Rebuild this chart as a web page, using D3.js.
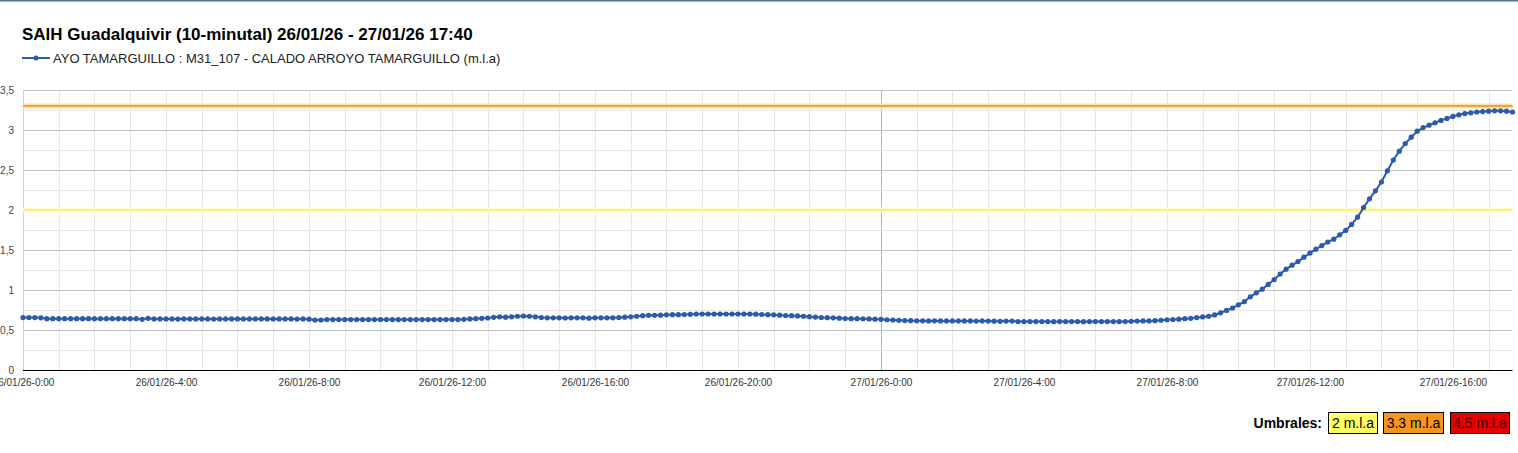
<!DOCTYPE html>
<html><head><meta charset="utf-8">
<script src="https://cdn.jsdelivr.net/npm/d3@7/dist/d3.min.js"></script>
<style>
html,body{margin:0;padding:0;background:#fff;}
svg{display:block;font-family:"Liberation Sans",Arial,sans-serif;}
</style></head><body>
<svg id="chart" width="1518" height="453"></svg>
<script>
const titleText = "SAIH Guadalquivir (10-minutal) 26/01/26 - 27/01/26 17:40";
const seriesName = "AYO TAMARGUILLO : M31_107 - CALADO ARROYO TAMARGUILLO (m.l.a)";
const startTime = "2026-01-26 00:00";
const endTime = "2026-01-27 17:40";
const stepMinutes = 10;
const levels = [
0.655,0.655,0.655,0.652,0.642,0.642,0.642,0.642,0.642,0.642,0.642,0.642,0.642,0.642,0.642,0.642,0.642,0.642,0.642,0.642,
0.633,0.646,0.638,0.638,0.638,0.638,0.636,0.638,0.638,0.638,0.638,0.638,0.636,0.638,0.638,0.638,0.638,0.638,0.638,0.638,
0.638,0.638,0.638,0.638,0.638,0.638,0.636,0.638,0.635,0.625,0.625,0.631,0.63,0.63,0.63,0.63,0.63,0.63,0.63,0.63,
0.63,0.63,0.63,0.63,0.63,0.63,0.63,0.63,0.63,0.63,0.63,0.63,0.63,0.63,0.633,0.638,0.642,0.646,0.65,0.658,
0.665,0.66,0.665,0.672,0.675,0.672,0.665,0.655,0.652,0.652,0.652,0.65,0.652,0.652,0.652,0.648,0.652,0.652,0.652,0.652,
0.655,0.66,0.665,0.672,0.679,0.683,0.683,0.685,0.69,0.692,0.692,0.694,0.696,0.70,0.70,0.70,0.70,0.70,0.70,0.70,
0.70,0.70,0.70,0.698,0.694,0.692,0.69,0.685,0.681,0.679,0.676,0.672,0.667,0.662,0.656,0.654,0.652,0.648,0.644,0.642,
0.642,0.64,0.638,0.635,0.633,0.628,0.625,0.621,0.618,0.617,0.615,0.615,0.614,0.615,0.614,0.613,0.613,0.614,0.613,0.613,
0.612,0.613,0.612,0.61,0.608,0.612,0.612,0.605,0.605,0.605,0.605,0.605,0.605,0.604,0.605,0.605,0.605,0.605,0.604,0.605,
0.605,0.605,0.605,0.605,0.605,0.605,0.608,0.612,0.614,0.614,0.617,0.622,0.628,0.631,0.635,0.641,0.646,0.655,0.663,0.672,
0.688,0.715,0.745,0.775,0.815,0.855,0.915,0.965,1.01,1.07,1.13,1.20,1.26,1.31,1.355,1.41,1.46,1.51,1.555,1.60,
1.635,1.69,1.745,1.82,1.91,2.03,2.14,2.24,2.35,2.49,2.625,2.735,2.83,2.91,2.985,3.03,3.06,3.09,3.12,3.145,
3.17,3.19,3.205,3.215,3.225,3.23,3.235,3.24,3.24,3.235,3.225
];
const yTicks = [0,0.5,1,1.5,2,2.5,3,3.5];
const yMinorTicks = [0.25,0.75,1.25,1.75,2.25,2.75,3.25];
const thresholdValues = [2, 3.3];
const thresholdColors = ["#fff07a", "#f0a23c"];
const thresholdHalo = ["#fffbd6", "#fbe0b8"];
const umbralLabels = ["2 m.l.a", "3.3 m.l.a", "4.5 m.l.a"];
const umbralColors = ["#ffff66", "#f7941f", "#e60000"];
const umbralText = ["#000", "#000", "#3a0000"];

const parse = d3.timeParse("%Y-%m-%d %H:%M");
const t0 = parse(startTime), t1 = parse(endTime);
const data = levels.map((v,i)=>({t: d3.timeMinute.offset(t0, i*stepMinutes), v}));

const svg = d3.select("#chart");
const L = 23, R = 1512.5, T = 90, B = 370;
const x = d3.scaleTime().domain([t0,t1]).range([L,R]);
const y = d3.scaleLinear().domain([0,3.5]).range([B,T]);

// top border
svg.append("rect").attr("x",0).attr("y",0).attr("width",1518).attr("height",1.5).attr("fill","#557483");

// title
svg.append("text").attr("x",22).attr("y",40).attr("font-size",17).attr("font-weight","bold").attr("fill","#000").text(titleText);

// legend
const lg = svg.append("g");
lg.append("line").attr("x1",22).attr("x2",50).attr("y1",58).attr("y2",58).attr("stroke","#2c5ca8").attr("stroke-width",2);
lg.append("circle").attr("cx",36).attr("cy",58).attr("r",2.5).attr("fill","#2c5ca8");
lg.append("text").attr("x",53).attr("y",62.5).attr("font-size",13).attr("fill","#222").text(seriesName);

// grid
const grid = svg.append("g");
const hours = d3.timeHour.range(t0, d3.timeMinute.offset(t1,1));
grid.selectAll("line.vg").data(hours).join("line")
  .attr("x1",d=>Math.round(x(d))+0.5).attr("x2",d=>Math.round(x(d))+0.5)
  .attr("y1",T).attr("y2",B)
  .attr("stroke",d=>(d.getHours()===0 && d>t0)?"#b5b5b5":(d.getTime()===t0.getTime()?"#cfcfcf":"#e6e6e6")).attr("stroke-width",1);
grid.selectAll("line.hm").data(yMinorTicks).join("line")
  .attr("x1",L).attr("x2",R).attr("y1",d=>Math.round(y(d))+0.5).attr("y2",d=>Math.round(y(d))+0.5)
  .attr("stroke","#e6e6e6");
grid.selectAll("line.hM").data(yTicks.filter(d=>d>0)).join("line")
  .attr("x1",L).attr("x2",R).attr("y1",d=>Math.round(y(d))+0.5).attr("y2",d=>Math.round(y(d))+0.5)
  .attr("stroke","#c4c4c4");

// thresholds
thresholdValues.forEach((tv,i)=>{
  svg.append("line").attr("x1",L).attr("x2",R).attr("y1",y(tv)).attr("y2",y(tv)).attr("stroke",thresholdHalo[i]).attr("stroke-width",5);
  svg.append("line").attr("x1",L).attr("x2",R).attr("y1",y(tv)).attr("y2",y(tv)).attr("stroke",thresholdColors[i]).attr("stroke-width",2);
});

// y axis
const yAxis = d3.axisLeft(y).tickValues(yTicks).tickSize(0).tickPadding(0)
  .tickFormat(d=>d3.format("")(d).replace(".",","));
const ya = svg.append("g").attr("transform",`translate(14,0)`).call(yAxis);
ya.select(".domain").remove();
ya.selectAll("text").attr("font-size",10).attr("fill","#444").attr("font-family","Liberation Sans, Arial, sans-serif");

// x axis
const xAxis = d3.axisBottom(x).ticks(d3.timeHour.every(4)).tickSize(0).tickPadding(0)
  .tickFormat(d3.timeFormat("%d/%m/%y-%-H:%M"));
const xa = svg.append("g").attr("transform",`translate(0,${B})`).call(xAxis);
xa.select(".domain").remove();
xa.selectAll("text").attr("font-size",10).attr("fill","#333").attr("dy",0).attr("y",16).attr("font-family","Liberation Sans, Arial, sans-serif");
svg.append("line").attr("x1",L).attr("x2",R).attr("y1",B+0.5).attr("y2",B+0.5).attr("stroke","#000").attr("stroke-width",1.2);

// series
const line = d3.line().x(d=>x(d.t)).y(d=>y(d.v));
svg.append("path").datum(data).attr("d",line).attr("fill","none").attr("stroke","#2c5ca8").attr("stroke-width",2);
svg.append("g").selectAll("circle").data(data).join("circle")
  .attr("cx",d=>x(d.t)).attr("cy",d=>y(d.v)).attr("r",2.6).attr("fill","#2c5ca8");

// umbrales legend
const ug = svg.append("g");
ug.append("text").attr("x",1322).attr("y",428).attr("text-anchor","end").attr("font-size",14).attr("font-weight","bold").attr("fill","#000").text("Umbrales:");
const boxX = [1328,1383,1450];
const boxW = [49,60,59];
umbralLabels.forEach((lab,i)=>{
  ug.append("rect").attr("x",boxX[i]+0.5).attr("y",412.5).attr("width",boxW[i]).attr("height",21).attr("fill",umbralColors[i]).attr("stroke","#000").attr("stroke-width",1);
  ug.append("text").attr("x",boxX[i]+boxW[i]/2+0.5).attr("y",428).attr("text-anchor","middle").attr("font-size",14).attr("fill",umbralText[i]).text(lab);
});
</script>
</body></html>
